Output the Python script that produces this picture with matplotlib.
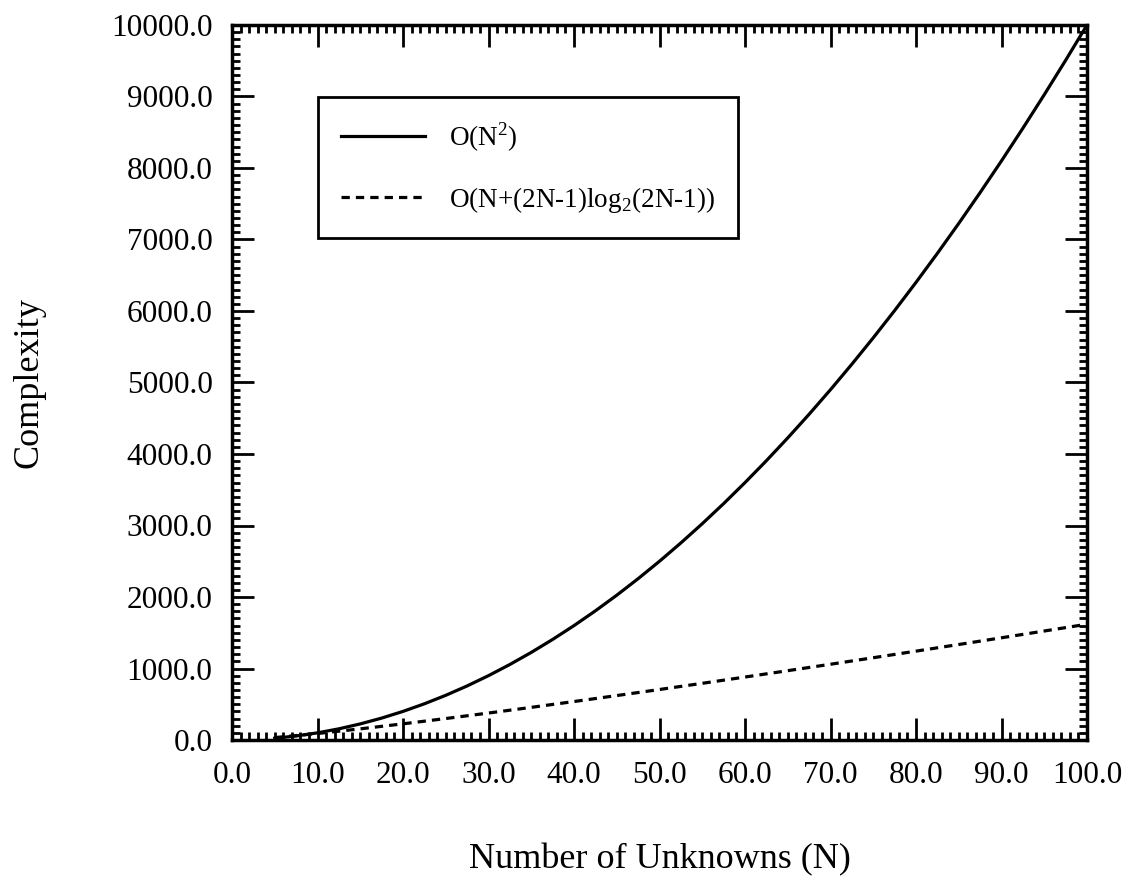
import matplotlib
matplotlib.use("Agg")
import matplotlib.pyplot as plt
from matplotlib.ticker import MultipleLocator, FormatStrFormatter

plt.rcParams['font.family'] = ['Liberation Serif', 'DejaVu Serif']
plt.rcParams['mathtext.fontset'] = 'custom'
plt.rcParams['mathtext.rm'] = 'Liberation Serif'

N_quad = [5, 7.5, 10, 12.5, 15, 17.5, 20, 22.5, 25, 27.5, 30, 32.5, 35, 37.5, 40, 42.5,
          45, 47.5, 50, 52.5, 55, 57.5, 60, 62.5, 65, 67.5, 70, 72.5, 75, 77.5, 80,
          82.5, 85, 87.5, 90, 92.5, 95, 97.5, 100]
quadratic = [25, 56.25, 100, 156.25, 225, 306.25, 400, 506.25, 625, 756.25, 900, 1056.25,
             1225, 1406.25, 1600, 1806.25, 2025, 2256.25, 2500, 2756.25, 3025, 3306.25,
             3600, 3906.25, 4225, 4556.25, 4900, 5256.25, 5625, 6006.25, 6400, 6806.25,
             7225, 7656.25, 8100, 8556.25, 9025, 9506.25, 10000]
N_fft = [5, 10, 15, 20, 25, 30, 35, 40, 45, 50, 55, 60, 65, 70, 75, 80, 85, 90, 95, 100]
fft_based = [33.5, 90.7, 155.9, 226.1, 300.1, 377.1, 456.5, 538.0, 621.4, 706.3,
             792.7, 880.5, 969.4, 1059.5, 1150.6, 1242.8, 1335.8, 1429.7, 1524.4, 1619.6]
labels = [r'O(N$^{\mathrm{2}}$)', r'O(N+(2N-1)log$_{\mathrm{2}}$(2N-1))']

fig = plt.figure(figsize=(11.34, 8.85), dpi=100)
ax = fig.add_axes([232/1134, 1-740/885, (1087-232)/1134, (740-25)/885])

ax.plot(N_quad, quadratic, color='black', lw=2.3, label=labels[0])
ax.plot(N_fft, fft_based, color='black', lw=2.3, ls=(0, (2.6, 1.9)), label=labels[1])

ax.set_xlim(0, 100)
ax.set_ylim(0, 10000)
ax.xaxis.set_major_locator(MultipleLocator(10))
ax.xaxis.set_minor_locator(MultipleLocator(1))
ax.yaxis.set_major_locator(MultipleLocator(1000))
ax.yaxis.set_minor_locator(MultipleLocator(100))
ax.xaxis.set_major_formatter(FormatStrFormatter('%.1f'))
ax.yaxis.set_major_formatter(FormatStrFormatter('%.1f'))
ax.tick_params(which='both', direction='in', top=True, right=True, width=2, labelsize=22.5, colors='black')
ax.tick_params(which='major', length=16)
ax.tick_params(which='minor', length=6)
ax.tick_params(axis='x', which='major', pad=15)
ax.tick_params(axis='y', which='major', pad=14)
for s in ax.spines.values():
    s.set_linewidth(2.5)

ax.set_xlabel('Number of Unknowns (N)', fontsize=26)
ax.set_ylabel('Complexity', fontsize=26)
ax.xaxis.set_label_coords(0.5, -(860-740)/715)
ax.xaxis.label.set_va('center')
ax.yaxis.set_label_coords(-(232-29)/855, 0.5)
ax.yaxis.label.set_va('center')

leg = ax.legend(loc='upper left', bbox_to_anchor=((318-232)/855, 1-(97-25)/715),
                fontsize=19.5, frameon=True, fancybox=False, edgecolor='black',
                framealpha=1, handlelength=3.1, handletextpad=0.9, borderpad=0.85,
                labelspacing=1.15, borderaxespad=0)
leg.get_frame().set_linewidth(2)

fig.savefig('out.png', dpi=100)
